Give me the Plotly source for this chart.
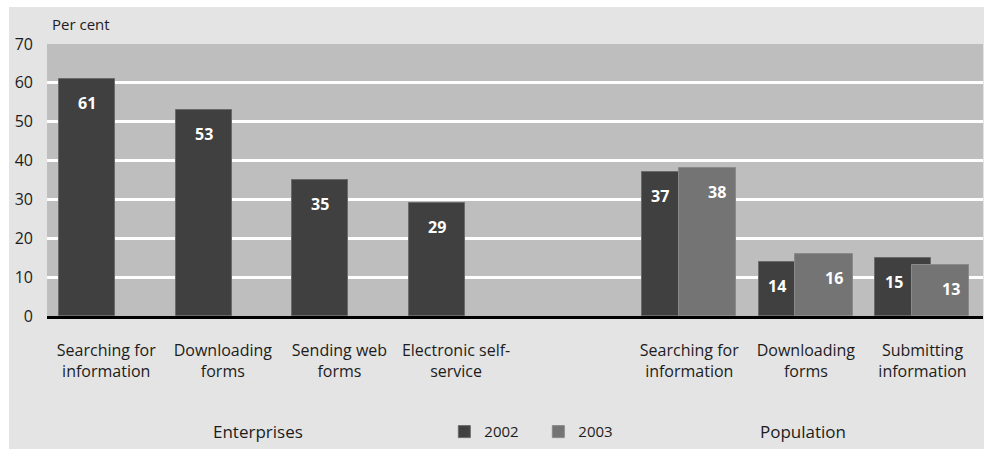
import plotly.graph_objects as go

# --- data -------------------------------------------------------------
ent_cats = ["Searching for<br>information", "Downloading<br>forms",
            "Sending web<br>forms", "Electronic self-<br>service"]
ent_2002 = [61, 53, 35, 29]

pop_cats = ["Searching for<br>information", "Downloading<br>forms",
            "Submitting<br>information"]
pop_2002 = [37, 14, 15]
pop_2003 = [38, 16, 13]

years = ["2002", "2003"]
group_names = ["Enterprises", "Population"]
y_ticks = [0, 10, 20, 30, 40, 50, 60, 70]

# --- layout helpers ---------------------------------------------------
# slot positions: enterprise bars, one empty slot, then population bars
ent_x = list(range(len(ent_cats)))
pop_x = [len(ent_cats) + 1 + i for i in range(len(pop_cats))]

C02, C03 = "#404040", "#747474"
W02, OFF02 = 0.48, -0.24
W03, OFF03 = 0.49, 0.075
LABEL_SHIFT = 0.165
FONT = "Open Sans"
TXT = "#1c1c1c"

fig = go.Figure()
fig.add_trace(go.Bar(
    name=years[0], x=ent_x + pop_x, y=ent_2002 + pop_2002,
    width=W02, offset=OFF02,
    marker=dict(color=C02, line=dict(color="#6a6a6a", width=1)),
    hoverinfo="skip",
))
fig.add_trace(go.Bar(
    name=years[1], x=pop_x, y=pop_2003,
    width=W03, offset=OFF03,
    marker=dict(color=C03, line=dict(color="#8a8a8a", width=1)),
    hoverinfo="skip",
))

# value labels inside the bars
ann = []
def value_label(x, v, xshift=0):
    ann.append(dict(x=x, y=v, xref="x", yref="y", text=str(v), showarrow=False,
                    yshift=-24, xshift=xshift, yanchor="middle",
                    font=dict(family=FONT, size=16, color="white", weight="bold")))

for x, v in zip(ent_x, ent_2002):
    value_label(x, v)
for x, v in zip(pop_x, pop_2002):
    value_label(x + (OFF02 + OFF03) / 2, v)
for x, v in zip(pop_x, pop_2003):
    value_label(x + OFF03 + W03 / 2, v, xshift=10)

# axis title and group names
ann.append(dict(x=0.003, y=1.0735, xref="paper", yref="paper", text="Per cent",
                showarrow=False, xanchor="left", yanchor="middle",
                font=dict(family=FONT, size=15, color=TXT)))
for gx, name in zip([(ent_x[0] + ent_x[-1]) / 2 - 0.03,
                     (pop_x[0] + pop_x[-1]) / 2 + 0.14], group_names):
    ann.append(dict(x=gx, y=-0.426, xref="x", yref="paper", text=name,
                    showarrow=False, xanchor="center", yanchor="middle",
                    font=dict(family=FONT, size=17, color=TXT)))

# white page strips around the grey panel
shapes = [
    dict(type="rect", xref="paper", yref="paper", x0=-0.06, x1=1.01,
         y0=1.136, y1=1.17, fillcolor="white", line=dict(width=0), layer="below"),
    dict(type="rect", xref="paper", yref="paper", x0=-0.06, x1=-0.0406,
         y0=-0.5, y1=1.17, fillcolor="white", line=dict(width=0), layer="below"),
]

fig.update_layout(
    width=984, height=449,
    margin=dict(l=47, r=1, t=44, b=133),
    paper_bgcolor="#e4e4e4", plot_bgcolor="#bebebe",
    barmode="overlay", bargap=0,
    font=dict(family=FONT, size=16, color=TXT),
    annotations=ann, shapes=shapes,
    showlegend=True,
    legend=dict(orientation="h", x=0.4245, y=-0.426, xanchor="left", yanchor="middle",
                entrywidth=49, entrywidthmode="pixels",
                bgcolor="rgba(0,0,0,0)", font=dict(family=FONT, size=15, color=TXT),
                itemclick=False),
    xaxis=dict(range=[-0.343, 7.684], tickvals=[p + LABEL_SHIFT for p in ent_x + pop_x],
               ticktext=ent_cats + pop_cats, showgrid=False, zeroline=False,
               showline=True, linecolor="black", linewidth=3, ticks="",
               ticklabelstandoff=18, tickfont=dict(family=FONT, size=16, color=TXT)),
    yaxis=dict(range=[0, 70], tickvals=y_ticks, showgrid=True, gridcolor="white",
               gridwidth=3, zeroline=False, showline=False, ticks="",
               ticklabelstandoff=13, tickfont=dict(family=FONT, size=16, color=TXT)),
)

fig.write_html("out.html")
